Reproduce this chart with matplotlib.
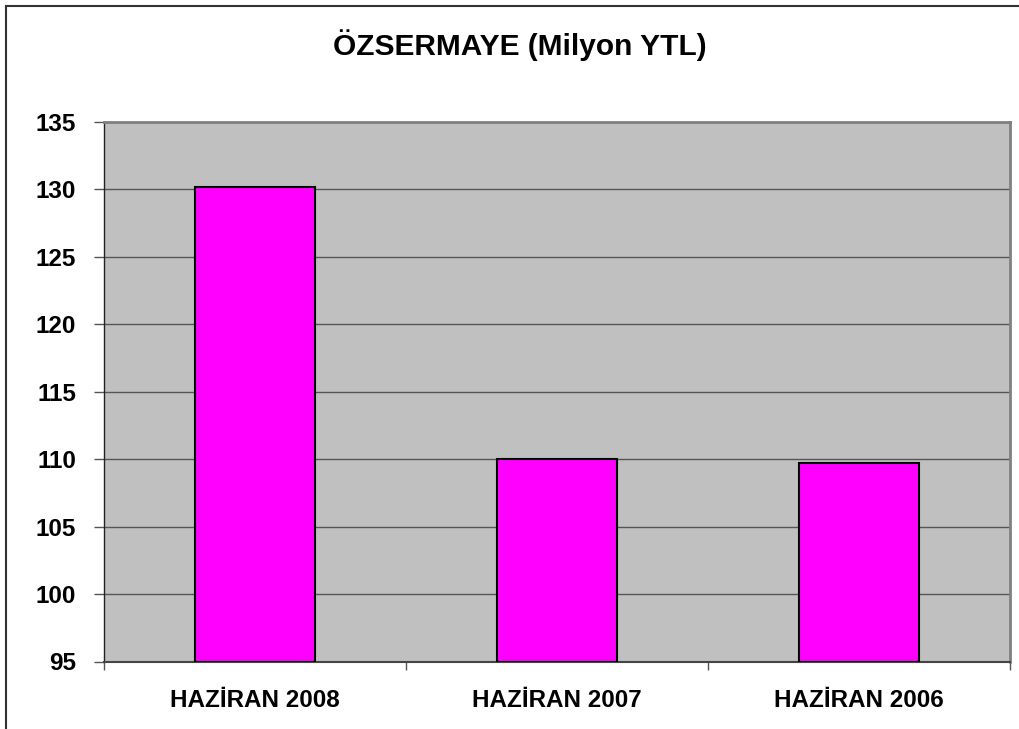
import matplotlib
matplotlib.use("Agg")
import matplotlib.pyplot as plt
from matplotlib.lines import Line2D

categories = ["HAZİRAN 2008", "HAZİRAN 2007", "HAZİRAN 2006"]
values = [130.2, 110.0, 109.75]
y_ticks = [95, 100, 105, 110, 115, 120, 125, 130, 135]
title = "ÖZSERMAYE (Milyon YTL)"

plt.rcParams['font.family'] = ['Liberation Sans', 'DejaVu Sans']
plt.rcParams['font.weight'] = 'bold'

fig = plt.figure(figsize=(10.19, 7.29), dpi=100)
fig.patch.set_facecolor('white')

# outer chart frame (left and top edges visible)
fig.add_artist(Line2D([6/1019, 6/1019], [0, 1 - 6/729], transform=fig.transFigure,
                      color='#333333', lw=1.5))
fig.add_artist(Line2D([6/1019, 1], [1 - 6/729, 1 - 6/729], transform=fig.transFigure,
                      color='#333333', lw=1.5))

ax = fig.add_axes([104/1019, 1 - 661.5/729, (1010 - 104)/1019, (661.5 - 122)/729])
ax.set_facecolor('#C0C0C0')

x = list(range(len(categories)))
ax.set_axisbelow(True)
ax.yaxis.grid(True, color='#555555', lw=1.0)
ax.bar(x, [v - 95 for v in values], bottom=95, width=0.4, color='#FF00FF',
       edgecolor='black', linewidth=1.5, zorder=3)

ax.set_xlim(-0.5, len(categories) - 0.5)
ax.set_ylim(y_ticks[0], y_ticks[-1])
ax.set_yticks(y_ticks)
ax.set_yticklabels([str(t) for t in y_ticks], fontsize=17.5, fontweight='bold')
ax.tick_params(axis='y', direction='out', length=7, width=1, color='#555555', pad=13)

ax.set_xticks([i - 0.5 for i in range(len(categories) + 1)])
ax.set_xticklabels([])
ax.tick_params(axis='x', which='major', direction='out', length=6, width=1, color='#555555')
ax.set_xticks(x, minor=True)
ax.set_xticklabels(categories, minor=True, fontsize=17.5, fontweight='bold')
ax.tick_params(axis='x', which='minor', length=0, pad=20)

for s in ['top', 'right']:
    ax.spines[s].set_color('#808080')
    ax.spines[s].set_linewidth(2)
ax.spines['left'].set_color('#222222')
ax.spines['left'].set_linewidth(1)
ax.spines['bottom'].set_color('#444444')
ax.spines['bottom'].set_linewidth(1.5)

fig.text(520/1019, 1 - 45/729, title, ha='center', va='center', fontsize=21.5, fontweight='bold')

fig.savefig("out.png", dpi=100)
